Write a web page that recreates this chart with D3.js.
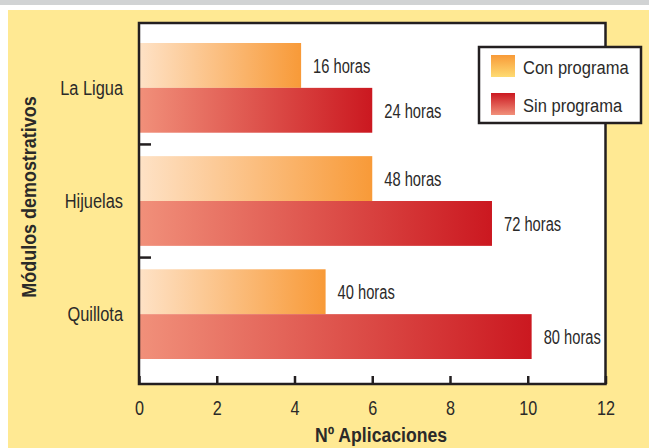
<!DOCTYPE html>
<html>
<head>
<meta charset="utf-8">
<script src="https://cdn.jsdelivr.net/npm/d3@7"></script>
<style>
    body { margin: 0; background: #fff; }
    svg { display: block; }
    text { font-family: "Liberation Sans", Arial, sans-serif; fill: #2b2a29; }
</style>
</head>
<body>
<svg id="chart" width="649" height="448"></svg>
<script>
// valores (Nº de aplicaciones)
var categorias = ["La Ligua", "Hijuelas", "Quillota"];
var series = ["Con programa", "Sin programa"];
var conPrograma = [4.17, 6.0, 4.8];
var sinPrograma = [6.0, 9.08, 10.1];
var horasCon = ["16 horas", "48 horas", "40 horas"];
var horasSin = ["24 horas", "72 horas", "80 horas"];
var xTicks = [0, 2, 4, 6, 8, 10, 12];

var svg = d3.select("#chart");
var plotLeft = 139, plotRight = 605.5, plotTop = 23, plotBottom = 384;

// texto condensado: la fuente original es una helvetica condensada
function condense(sel, sx) {
    sel.each(function () {
        var t = d3.select(this);
        var tx = +t.attr("x") || 0, ty = +t.attr("y") || 0;
        t.attr("x", 0).attr("y", 0)
            .attr("transform", "translate(" + tx + "," + ty + ") scale(" + sx + ",1)");
    });
}

// fondo
svg.append("rect").attr("x", 0).attr("y", 0).attr("width", 649).attr("height", 5).attr("fill", "#d1d3d4");
svg.append("rect").attr("x", 8).attr("y", 10).attr("width", 641).attr("height", 438).attr("fill", "#ffe993");
svg.append("rect")
    .attr("x", plotLeft).attr("y", plotTop)
    .attr("width", plotRight - plotLeft).attr("height", plotBottom - plotTop)
    .attr("fill", "#fff");

var defs = svg.append("defs");

function gradient(id, from, to, vertical) {
    var g = defs.append("linearGradient").attr("id", id);
    if (vertical) {
        g.attr("x1", 0).attr("y1", 0).attr("x2", 0).attr("y2", 1);
    }
    g.append("stop").attr("offset", "0%").attr("stop-color", from);
    g.append("stop").attr("offset", "100%").attr("stop-color", to);
}
gradient("gCon", "#fee2c6", "#f89a38", false);
gradient("gSin", "#f1907a", "#cb1820", false);
gradient("lCon", "#f89a38", "#fedb72", true);
gradient("lSin", "#cb1820", "#f1907a", true);

var x = d3.scaleLinear()
    .domain([0, 12])
    .range([plotLeft, plotRight]);

var y = d3.scaleBand()
    .domain(categorias)
    .range([43, 359])
    .paddingInner(0.207)
    .paddingOuter(0);

var ySub = d3.scaleBand()
    .domain(series)
    .range([0, y.bandwidth()]);

var rows = categorias.map(function (c, i) {
    return [
        {cat: c, serie: series[0], value: conPrograma[i], label: horasCon[i], fill: "url(#gCon)"},
        {cat: c, serie: series[1], value: sinPrograma[i], label: horasSin[i], fill: "url(#gSin)"}
    ];
});
var bars = [].concat.apply([], rows);

svg.selectAll("rect.bar")
    .data(bars)
    .enter().append("rect")
    .attr("class", "bar")
    .attr("x", x(0))
    .attr("y", function (d) { return y(d.cat) + ySub(d.serie); })
    .attr("width", function (d) { return x(d.value) - x(0); })
    .attr("height", ySub.bandwidth())
    .attr("fill", function (d) { return d.fill; });

svg.selectAll("text.valor")
    .data(bars)
    .enter().append("text")
    .attr("class", "valor")
    .attr("x", function (d) { return x(d.value) + 12; })
    .attr("y", function (d) { return y(d.cat) + ySub(d.serie) + ySub.bandwidth() / 2; })
    .attr("dy", "0.36em")
    .attr("font-size", 21)
    .text(function (d) { return d.label; })
    .call(condense, 0.70);

// eje x
var xAxis = svg.append("g")
    .attr("transform", "translate(0," + plotBottom + ")")
    .call(d3.axisBottom(x).tickValues(xTicks).tickSize(-8).tickPadding(16));
xAxis.select(".domain").remove();
xAxis.selectAll(".tick line").attr("stroke", "#231f20").attr("stroke-width", 2.5);
xAxis.selectAll(".tick text")
    .attr("font-size", 21)
    .attr("font-family", "Liberation Sans, Arial, sans-serif")
    .attr("fill", "#2b2a29")
    .call(condense, 0.77);

// eje y
var yAxis = svg.append("g")
    .attr("transform", "translate(" + plotLeft + ",0)")
    .call(d3.axisLeft(y).tickSize(0).tickPadding(16));
yAxis.select(".domain").remove();
yAxis.selectAll(".tick text")
    .attr("font-size", 21)
    .attr("font-family", "Liberation Sans, Arial, sans-serif")
    .attr("fill", "#2b2a29")
    .call(condense, 0.78);

var separadores = categorias.slice(1).map(function (c) {
    return y(c) - y.step() * y.paddingInner() / 2;
});
svg.selectAll("line.sep")
    .data(separadores)
    .enter().append("line")
    .attr("class", "sep")
    .attr("x1", plotLeft).attr("x2", plotLeft + 12)
    .attr("y1", function (d) { return d; })
    .attr("y2", function (d) { return d; })
    .attr("stroke", "#231f20")
    .attr("stroke-width", 2.5);

// marco
svg.append("rect")
    .attr("x", plotLeft).attr("y", plotTop)
    .attr("width", plotRight - plotLeft).attr("height", plotBottom - plotTop)
    .attr("fill", "none")
    .attr("stroke", "#231f20")
    .attr("stroke-width", 2.5);

// titulos
svg.append("text")
    .attr("x", 381).attr("y", 442)
    .attr("text-anchor", "middle")
    .attr("font-size", 21)
    .attr("font-weight", "bold")
    .attr("fill", "#231f20")
    .text("Nº Aplicaciones")
    .call(condense, 0.84);

svg.append("text")
    .attr("transform", "translate(36,197) rotate(-90) scale(0.855,1)")
    .attr("text-anchor", "middle")
    .attr("font-size", 21)
    .attr("font-weight", "bold")
    .attr("fill", "#231f20")
    .text("Módulos demostrativos");

// leyenda
var legend = svg.append("g");
legend.append("rect")
    .attr("x", 479).attr("y", 47)
    .attr("width", 162).attr("height", 76)
    .attr("fill", "#fff")
    .attr("stroke", "#231f20")
    .attr("stroke-width", 2.5);

var item = legend.selectAll("g.item")
    .data(series)
    .enter().append("g")
    .attr("class", "item")
    .attr("transform", function (d, i) { return "translate(491," + (55 + i * 38) + ")"; });

item.append("rect")
    .attr("width", 24).attr("height", 22)
    .attr("fill", function (d, i) { return i === 0 ? "url(#lCon)" : "url(#lSin)"; });

item.append("text")
    .attr("x", 32).attr("y", 18.5)
    .attr("font-size", 19)
    .text(function (d) { return d; })
    .call(condense, 0.87);
</script>
</body>
</html>
